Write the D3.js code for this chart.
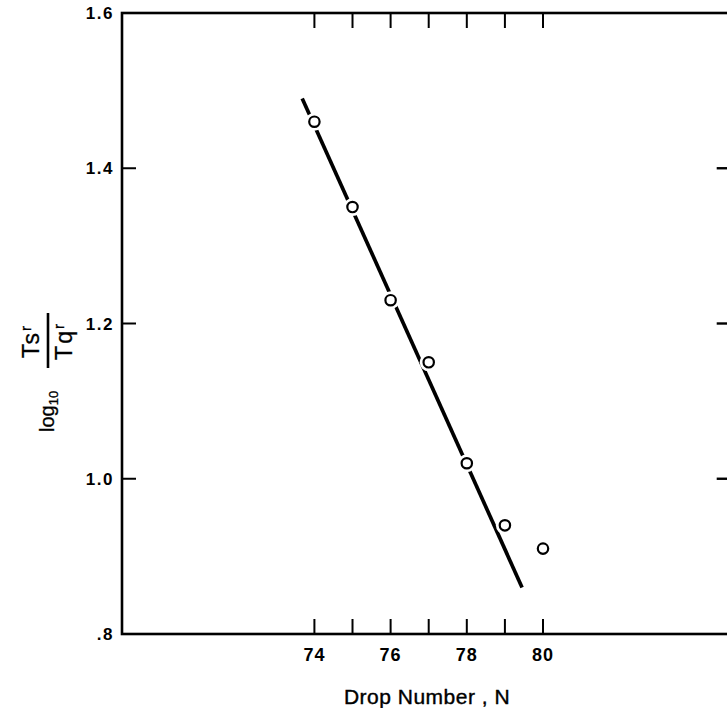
<!DOCTYPE html>
<html>
<head>
<meta charset="utf-8">
<script src="https://cdn.jsdelivr.net/npm/d3@7"></script>
<style>
body { margin: 0; background: #fff; }
text { font-family: "Liberation Sans", Arial, sans-serif; fill: #000; }
</style>
</head>
<body>
<div id="chart"></div>
<script>
// measured points and the hand-drawn fit line
var dropNumber = [74, 75, 76, 77, 78, 79, 80];
var logRatio = [1.46, 1.35, 1.23, 1.15, 1.02, 0.94, 0.91];
var fitDrop = [73.68, 79.45];
var fitRatio = [1.49, 0.86];

var xTicks = [74, 75, 76, 77, 78, 79, 80];
var xTickLabels = [74, 76, 78, 80];
var yTickLabels = [1.6, 1.4, 1.2, 1.0, 0.8];
var yInnerTicks = [1.4, 1.2, 1.0];

var width = 727;
var height = 708;

var x = d3.scaleLinear().domain([68.95, 84.9]).range([122, 729.7]);
var y = d3.scaleLinear().domain([0.8, 1.6]).range([634, 13]);

var svg = d3.select("#chart")
	.append("svg")
	.attr("width", width)
	.attr("height", height);

// frame
svg.append("rect")
	.attr("x", x.range()[0])
	.attr("y", y.range()[1])
	.attr("width", x.range()[1] - x.range()[0])
	.attr("height", y.range()[0] - y.range()[1])
	.attr("fill", "none")
	.attr("stroke", "#000")
	.attr("stroke-width", 2.6);

// inward ticks, bottom and top
svg.selectAll(".xb")
	.data(xTicks)
	.enter()
	.append("line")
	.attr("x1", function(d) { return x(d); })
	.attr("x2", function(d) { return x(d); })
	.attr("y1", y.range()[0])
	.attr("y2", y.range()[0] - 15)
	.attr("stroke", "#000")
	.attr("stroke-width", 2);

svg.selectAll(".xt")
	.data(xTicks)
	.enter()
	.append("line")
	.attr("x1", function(d) { return x(d); })
	.attr("x2", function(d) { return x(d); })
	.attr("y1", y.range()[1])
	.attr("y2", y.range()[1] + 15)
	.attr("stroke", "#000")
	.attr("stroke-width", 2);

// inward ticks, left and right
svg.selectAll(".yl")
	.data(yInnerTicks)
	.enter()
	.append("line")
	.attr("x1", x.range()[0])
	.attr("x2", x.range()[0] + 14)
	.attr("y1", function(d) { return y(d); })
	.attr("y2", function(d) { return y(d); })
	.attr("stroke", "#000")
	.attr("stroke-width", 2);

svg.selectAll(".yr")
	.data(yInnerTicks)
	.enter()
	.append("line")
	.attr("x1", x.range()[1])
	.attr("x2", x.range()[1] - 13)
	.attr("y1", function(d) { return y(d); })
	.attr("y2", function(d) { return y(d); })
	.attr("stroke", "#000")
	.attr("stroke-width", 2.4);

// tick labels
svg.selectAll(".xlab")
	.data(xTickLabels)
	.enter()
	.append("text")
	.attr("x", function(d) { return x(d); })
	.attr("y", 661)
	.attr("text-anchor", "middle")
	.attr("font-size", 18)
	.attr("font-weight", "bold")
	.attr("letter-spacing", 1)
	.text(function(d) { return d; });

svg.selectAll(".ylab")
	.data(yTickLabels)
	.enter()
	.append("text")
	.attr("x", 114)
	.attr("y", function(d) { return y(d) + 6; })
	.attr("text-anchor", "end")
	.attr("font-size", 17)
	.attr("font-weight", "bold")
	.attr("letter-spacing", 1.5)
	.text(function(d) { return d < 1 ? d3.format(".1f")(d).replace(/^0/, "") : d3.format(".1f")(d); });

// fit line
var fit = fitDrop.map(function(d, i) { return [d, fitRatio[i]]; });
svg.append("path")
	.datum(fit)
	.attr("fill", "none")
	.attr("stroke", "#000")
	.attr("stroke-width", 3.7)
	.attr("d", d3.line()
		.x(function(d) { return x(d[0]); })
		.y(function(d) { return y(d[1]); }));

// points: white halo cuts the line, then the open circle
var pts = dropNumber.map(function(d, i) { return [d, logRatio[i]]; });
svg.selectAll(".halo")
	.data(pts)
	.enter()
	.append("circle")
	.attr("cx", function(d) { return x(d[0]); })
	.attr("cy", function(d) { return y(d[1]); })
	.attr("r", 9)
	.attr("fill", "#fff");

svg.selectAll(".pt")
	.data(pts)
	.enter()
	.append("circle")
	.attr("cx", function(d) { return x(d[0]); })
	.attr("cy", function(d) { return y(d[1]); })
	.attr("r", 5.2)
	.attr("fill", "#fff")
	.attr("stroke", "#000")
	.attr("stroke-width", 2.2);

// x title
svg.append("text")
	.attr("x", 427)
	.attr("y", 704)
	.attr("text-anchor", "middle")
	.attr("font-size", 21)
	.attr("stroke", "#000")
	.attr("stroke-width", 0.4)
	.attr("letter-spacing", 0.5)
	.text("Drop Number , N");

// y title: log10 (Tsr / Tqr), rotated
var yt = svg.append("g")
	.attr("transform", "translate(48,372) rotate(-90)");

var logText = yt.append("text")
	.attr("x", -60)
	.attr("y", 6)
	.attr("font-size", 20)
	.attr("stroke", "#000")
	.attr("stroke-width", 0.3);
logText.append("tspan").text("log");
logText.append("tspan").attr("font-size", 13).attr("dy", 4).text("10");

yt.append("line")
	.attr("x1", 4)
	.attr("x2", 59)
	.attr("y1", 0)
	.attr("y2", 0)
	.attr("stroke", "#000")
	.attr("stroke-width", 2.6);

var num = yt.append("text")
	.attr("x", 31)
	.attr("y", -9)
	.attr("text-anchor", "middle")
	.attr("font-size", 23)
	.attr("letter-spacing", 2)
	.attr("stroke", "#000")
	.attr("stroke-width", 0.3);
num.append("tspan").text("Ts");
num.append("tspan").attr("font-size", 15).attr("dy", -8).text("r");

var den = yt.append("text")
	.attr("x", 31)
	.attr("y", 24)
	.attr("text-anchor", "middle")
	.attr("font-size", 23)
	.attr("letter-spacing", 2)
	.attr("stroke", "#000")
	.attr("stroke-width", 0.3);
den.append("tspan").text("Tq");
den.append("tspan").attr("font-size", 15).attr("dy", -8).text("r");
</script>
</body>
</html>
